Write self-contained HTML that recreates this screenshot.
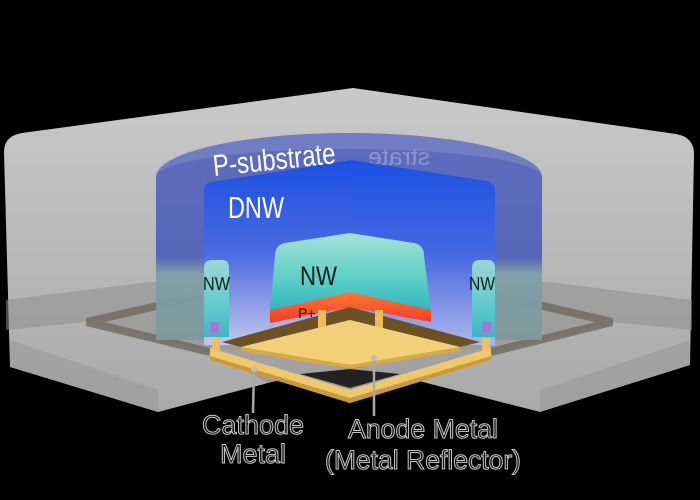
<!DOCTYPE html>
<html><head><meta charset="utf-8"><style>
html,body{margin:0;padding:0;background:#000;}
svg{display:block;font-family:"Liberation Sans",sans-serif;}
</style></head><body>
<svg width="700" height="500" viewBox="0 0 700 500" xmlns="http://www.w3.org/2000/svg">
<defs>
<linearGradient id="box" x1="0" y1="0" x2="0" y2="1">
<stop offset="0" stop-color="#c9c9c9"/><stop offset="1" stop-color="#a9a9a9"/></linearGradient>
<linearGradient id="cyl" x1="0" y1="0" x2="0" y2="1">
<stop offset="0" stop-color="#5a68bd"/><stop offset="0.6" stop-color="#5062b8"/><stop offset="0.68" stop-color="#7e9ea8"/><stop offset="1" stop-color="#7d9a9c"/></linearGradient>
<linearGradient id="wall" x1="0" y1="0" x2="0" y2="1">
<stop offset="0" stop-color="#1b4fe2"/><stop offset="0.5" stop-color="#4a6ae0"/><stop offset="1" stop-color="#c4c6ec"/></linearGradient>
<linearGradient id="nw" x1="0" y1="0" x2="0" y2="1">
<stop offset="0" stop-color="#a6e2d6"/><stop offset="0.6" stop-color="#5ccfc8"/><stop offset="1" stop-color="#2fb6c0"/></linearGradient>
<linearGradient id="pp" x1="0" y1="0" x2="0" y2="1">
<stop offset="0" stop-color="#ff7a30"/><stop offset="1" stop-color="#f23a2a"/></linearGradient>
</defs>
<rect width="700" height="500" fill="#000"/>
<path d="M4,152 Q4,136 22,133 L353,88 L676,134 Q694,137 694,154 L690,365 L540,412 L415,380 L350,363 L268,383 L158,412 L10,367 Z" fill="url(#box)"/>
<path d="M6,300 L150,282 L550,282 L692,300 L692,330 L612,322 L491,352 L415,380 L350,363 L268,383 L210,352 L87,322 L6,330 Z" fill="#8e8e8e" opacity="0.55"/>
<path d="M10,340 L158,390 L158,412 L10,367 Z" fill="#9a9a9a" opacity="0.6"/>
<path d="M690,340 L540,390 L540,412 L690,365 Z" fill="#9a9a9a" opacity="0.6"/>
<polygon points="268,383 350,364 415,380 440,390 350,412 255,390" fill="#000"/>
<polyline points="210,352 87,322 200,296" fill="none" stroke="#6d6a5e" stroke-width="8" opacity="0.8"/>
<polyline points="491,352 612,322 500,296" fill="none" stroke="#6d6a5e" stroke-width="8" opacity="0.8"/>
<path d="M156,177 A193,44 0 0 1 542,177 L542,340 L156,340 Z" fill="url(#cyl)" opacity="0.95"/>
<path d="M156,177 A193,44 0 0 1 542,177 A193,28 0 0 0 156,177 Z" fill="#7884c6" opacity="0.7"/>
<g transform="translate(430,165) scale(-1,1)" opacity="0.35"><text x="0" y="0" font-size="24" fill="#dfe3f5" textLength="62" lengthAdjust="spacingAndGlyphs">strate</text></g>
<g transform="translate(450,205) scale(-1,1)" opacity="0.3"><text x="0" y="0" font-size="22" fill="#dfe3f5" textLength="40" lengthAdjust="spacingAndGlyphs">DNW</text></g>
<path d="M204,190 Q204,183 212,182 L351,160 L351,345 L204,345 Z" fill="url(#wall)"/>
<path d="M351,160 L486,181 Q495,183 495,192 L495,345 L351,345 Z" fill="url(#wall)"/>
<path d="M351,160 L486,181 Q495,183 495,192 L495,345 L351,345 Z" fill="#2a60ea" opacity="0.15"/>
<path d="M275,256 Q275,245 285,243 L350,233 L414,243 Q424,245 424,256 L431,310 L350,292 L270,310 Z" fill="url(#nw)"/>
<path d="M270,310 L350,292 L431,310 L431,322 L350,307 L270,323 Z" fill="url(#pp)"/>
<path d="M204,268 Q204,260 212,260 L222,260 Q229,260 229,268 L229,337 L204,337 Z" fill="url(#nw)" opacity="0.9"/>
<path d="M472,268 Q472,260 480,260 L488,260 Q495,260 495,268 L495,337 L472,337 Z" fill="url(#nw)" opacity="0.9"/>
<rect x="210" y="322" width="9" height="11" fill="#9a7ed6"/>
<rect x="482" y="322" width="9" height="11" fill="#9a7ed6"/>
<path d="M222,342 L350,307 L480,342 L460,347 L350,320 L241,347 Z" fill="#6e5122"/>
<rect x="318" y="310" width="8" height="20" fill="#e8bd5c"/>
<rect x="375" y="310" width="8" height="20" fill="#e8bd5c"/>
<polygon points="241,351 350,369 460,351 491,350 350,392 210,350" fill="#a2a2a2"/>
<polygon points="300,374 350,369 400,374 350,388" fill="#222"/>
<path d="M241,351 L350,369 L460,351 L460,347 L350,365 L241,347 Z" fill="#d9a945"/>
<path d="M241,347 L350,320 L460,347 L350,365 Z" fill="#f3cf78"/>
<rect x="212" y="338" width="8" height="18" fill="#e9c063"/>
<rect x="482" y="338" width="8" height="18" fill="#e9c063"/>
<path d="M210,348 L350,390 L491,348 L491,360 L350,403 L210,360 Z" fill="#eec86a"/>
<path d="M210,356 L350,398 L491,356 L491,360 L350,403 L210,360 Z" fill="#c99a3a"/>
<text x="0" y="0" font-size="30" fill="#fff" transform="translate(214,176) rotate(-6)" textLength="123" lengthAdjust="spacingAndGlyphs">P-substrate</text>
<text x="228" y="218" font-size="31" fill="#fff" textLength="56" lengthAdjust="spacingAndGlyphs">DNW</text>
<text x="300" y="285" font-size="27" fill="#0c1a1a" textLength="37" lengthAdjust="spacingAndGlyphs">NW</text>
<text x="203" y="290" font-size="18" fill="#0c1a1a" textLength="27" lengthAdjust="spacingAndGlyphs">NW</text>
<text x="469" y="290" font-size="18" fill="#0c1a1a" textLength="26" lengthAdjust="spacingAndGlyphs">NW</text>
<text x="298" y="318" font-size="14" fill="#111">P+</text>
<line x1="254" y1="369" x2="253" y2="413" stroke="#a8a8a8" stroke-width="2.5"/>
<circle cx="254" cy="369" r="3" fill="#bbb"/>
<line x1="374" y1="358" x2="374" y2="416" stroke="#a8a8a8" stroke-width="2.5"/>
<circle cx="374" cy="358" r="3" fill="#bbb"/>
<g font-size="27" fill="#111" stroke="#c8c8c8" stroke-width="1" text-anchor="middle">
<text x="253" y="434" textLength="102" lengthAdjust="spacingAndGlyphs">Cathode</text>
<text x="253" y="463" textLength="66" lengthAdjust="spacingAndGlyphs">Metal</text>
<text x="423" y="438" textLength="150" lengthAdjust="spacingAndGlyphs">Anode Metal</text>
<text x="423" y="469" textLength="196" lengthAdjust="spacingAndGlyphs">(Metal Reflector)</text>
</g>
</svg>
</body></html>
